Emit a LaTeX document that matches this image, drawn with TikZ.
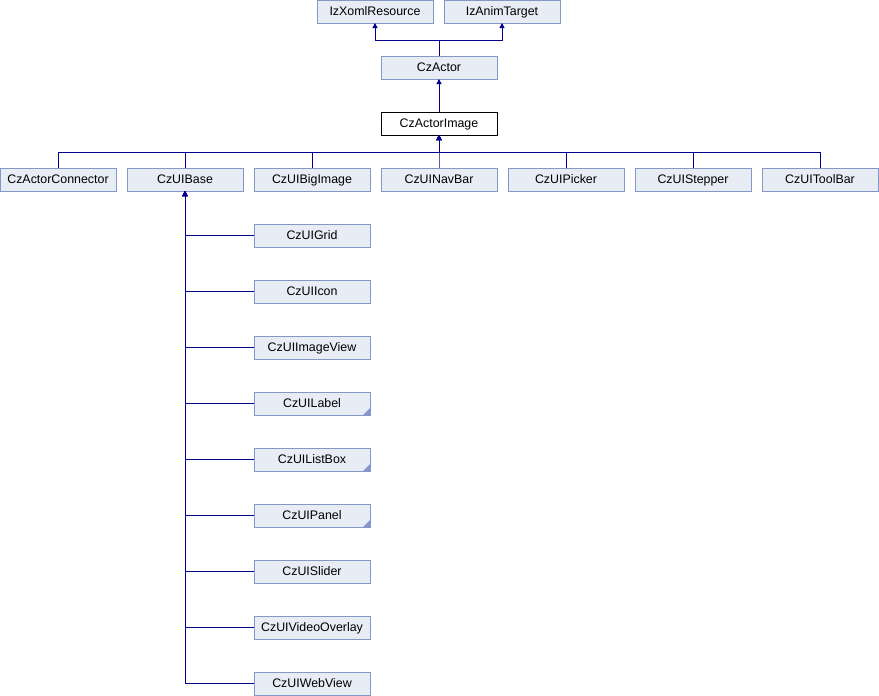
\documentclass[tikz,border=0pt]{standalone}
\usepackage{fontspec}
\setmainfont{Liberation Sans}
\usetikzlibrary{arrows.meta}
\definecolor{boxfill}{RGB}{232,236,245}
\definecolor{boxdraw}{RGB}{132,152,200}
\definecolor{linkcol}{RGB}{0,0,140}
\begin{document}
\begin{tikzpicture}[x=1pt,y=-1pt,
cls/.style={draw=boxdraw,fill=boxfill,minimum width=116pt,minimum height=23pt,
  inner sep=0,outer sep=0,text height=10pt,text depth=1.5pt,font=\fontsize{12.4}{14}\selectfont},
cur/.style={cls,draw=black,fill=white},
link/.style={draw=linkcol,line width=1pt,-{Triangle[width=5pt,length=5pt]}}]
\useasboundingbox (0,0) rectangle (879,696);
% bases
\node[cls] (xoml) at (375,11.5) {IzXomlResource};
\node[cls] (anim) at (502,11.5) {IzAnimTarget};
\node[cls] (actor) at (439,67.5) {CzActor};
\node[cur] (image) at (439,123.5) {CzActorImage};
% direct children
\foreach \nm/\txt [count=\i from 0] in {conn/CzActorConnector,base/CzUIBase,big/CzUIBigImage,
  nav/CzUINavBar,pick/CzUIPicker,step/CzUIStepper,tool/CzUIToolBar}{
  \node[cls] (\nm) at (58+127*\i,179.5) {\txt};
  \draw[link] (\nm.north) -- ++(0,-16) -| (image.south);
}
% children of CzUIBase
\foreach \nm/\txt [count=\i from 0] in {grid/CzUIGrid,icon/CzUIIcon,iview/CzUIImageView,
  label/CzUILabel,list/CzUIListBox,panel/CzUIPanel,slider/CzUISlider,
  video/CzUIVideoOverlay,web/CzUIWebView}{
  \node[cls] (\nm) at (312,235.5+56*\i) {\txt};
  \draw[link] (\nm.west) -| (base.south);
}
\foreach \nm in {label,list,panel}
  \fill[boxdraw] (\nm.south east) -- ++(-7,0) -- ++(7,-7) -- cycle;%more derived
\draw[link] (actor.north) -- ++(0,-16) -| (xoml.south);
\draw[link] (actor.north) -- ++(0,-16) -| (anim.south);
\draw[link] (image.north) -- (actor.south);
\end{tikzpicture}
\end{document}
